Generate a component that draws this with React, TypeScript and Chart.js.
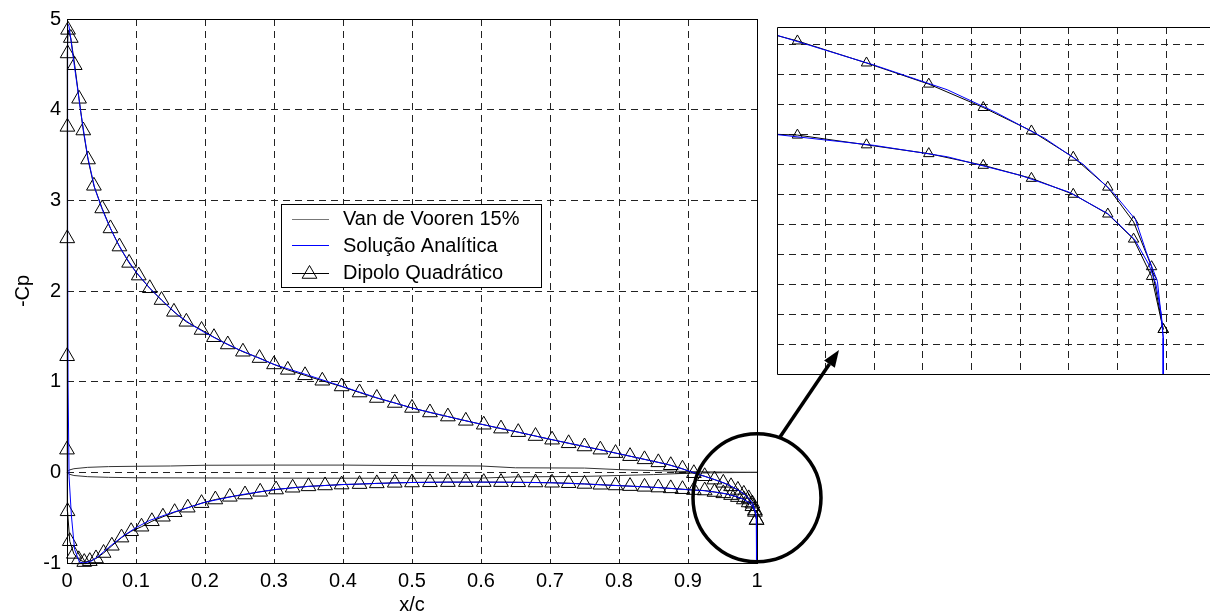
import React, { useEffect, useRef } from "react";
import { Chart, registerables } from "chart.js";

Chart.register(...registerables);

// ---------------- data ----------------
// Van de Vooren 15% airfoil contour (drawn on the same axes)
const vdvUpperX = [0, 0.003, 0.01, 0.03, 0.06, 0.1, 0.15, 0.2, 0.3, 0.4, 0.5, 0.6, 0.65, 0.75, 0.8, 0.85, 0.9, 0.95, 1.0];
const vdvUpperY = [0, 0.025, 0.04, 0.055, 0.063, 0.067, 0.07, 0.078, 0.08, 0.08, 0.074, 0.07, 0.05, 0.047, 0.03, 0.02, 0.008, 0.003, 0];
const vdvLowerX = [0, 0.003, 0.01, 0.03, 0.06, 0.1, 0.2, 0.3, 0.4, 0.5, 0.6, 0.65, 0.75, 0.8, 0.85, 0.9, 0.95, 1.0];
const vdvLowerY = [0, -0.02, -0.035, -0.048, -0.055, -0.06, -0.062, -0.064, -0.065, -0.065, -0.064, -0.05, -0.045, -0.035, -0.025, -0.01, -0.004, 0];

// Solução Analítica (-Cp): trailing edge -> lower surface -> leading edge -> upper surface -> trailing edge
const analyticX = [0.9994, 0.9994, 0.999, 0.9979, 0.9965, 0.9935, 0.988, 0.98, 0.97, 0.955, 0.94, 0.92, 0.9, 0.87, 0.84, 0.8, 0.75, 0.7, 0.65, 0.6, 0.55, 0.5, 0.45, 0.4, 0.35, 0.3, 0.25, 0.2, 0.15, 0.12, 0.1, 0.08, 0.06, 0.045, 0.035, 0.025, 0.018, 0.011, 0.0064, 0.003, 0.0015, 0.001, 0.0008, 0.001, 0.003, 0.006, 0.01, 0.015, 0.02, 0.025, 0.03, 0.04, 0.05, 0.06, 0.07, 0.08, 0.09, 0.1, 0.12, 0.14, 0.16, 0.18, 0.2, 0.225, 0.25, 0.275, 0.3, 0.35, 0.4, 0.45, 0.5, 0.55, 0.6, 0.65, 0.7, 0.75, 0.8, 0.84, 0.87, 0.9, 0.92, 0.94, 0.955, 0.965, 0.975, 0.983, 0.989, 0.9937, 0.9959, 0.9982, 0.999, 0.9994, 0.9994];
const analyticY = [-1.0, -0.54, -0.5, -0.45, -0.418, -0.375, -0.332, -0.296, -0.268, -0.237, -0.218, -0.2, -0.192, -0.175, -0.161, -0.147, -0.128, -0.115, -0.11, -0.108, -0.108, -0.112, -0.122, -0.135, -0.155, -0.19, -0.25, -0.33, -0.45, -0.53, -0.61, -0.71, -0.83, -0.93, -0.98, -1.0, -0.99, -0.85, -0.48, -0.05, 1.0, 2.5, 4.0, 4.95, 4.92, 4.75, 4.52, 4.25, 3.97, 3.72, 3.48, 3.14, 2.92, 2.74, 2.58, 2.44, 2.32, 2.21, 2.03, 1.88, 1.74, 1.63, 1.54, 1.44, 1.35, 1.27, 1.19, 1.07, 0.945, 0.82, 0.71, 0.618, 0.531, 0.45, 0.365, 0.285, 0.205, 0.138, 0.088, 0.018, -0.034, -0.084, -0.125, -0.163, -0.206, -0.25, -0.296, -0.342, -0.396, -0.445, -0.505, -0.54, -1.0];

// Dipolo Quadrático, lower surface (leading edge -> trailing edge)
const dipoloLowerX = [0.0008, 0.004, 0.01, 0.017, 0.025, 0.033, 0.042, 0.053, 0.065, 0.079, 0.093, 0.108, 0.123, 0.139, 0.156, 0.175, 0.195, 0.215, 0.236, 0.258, 0.28, 0.303, 0.327, 0.35, 0.374, 0.398, 0.424, 0.449, 0.475, 0.5, 0.526, 0.552, 0.578, 0.604, 0.629, 0.654, 0.679, 0.703, 0.727, 0.75, 0.773, 0.795, 0.816, 0.837, 0.857, 0.875, 0.892, 0.9085, 0.9242, 0.9384, 0.9512, 0.9624, 0.9723, 0.9809, 0.988, 0.9933, 0.997, 0.9994];
const dipoloLowerY = [-0.43, -0.76, -0.9, -0.96, -0.99, -0.98, -0.95, -0.89, -0.81, -0.72, -0.65, -0.6, -0.54, -0.49, -0.44, -0.39, -0.34, -0.3, -0.27, -0.245, -0.215, -0.19, -0.17, -0.155, -0.145, -0.135, -0.13, -0.122, -0.116, -0.112, -0.11, -0.108, -0.108, -0.108, -0.108, -0.11, -0.112, -0.115, -0.12, -0.128, -0.137, -0.145, -0.152, -0.16, -0.168, -0.177, -0.186, -0.196, -0.2008, -0.2171, -0.2318, -0.2513, -0.2731, -0.2997, -0.3327, -0.3746, -0.437, -0.5256];
// Dipolo Quadrático, upper surface (leading edge -> trailing edge)
const dipoloUpperX = [0.0, 0.0002, 0.0004, 0.0006, 0.0009, 0.0015, 0.0055, 0.0112, 0.0175, 0.0236, 0.0305, 0.039, 0.051, 0.063, 0.076, 0.09, 0.104, 0.12, 0.137, 0.155, 0.173, 0.195, 0.213, 0.233, 0.255, 0.279, 0.3, 0.32, 0.345, 0.37, 0.398, 0.424, 0.449, 0.475, 0.5, 0.526, 0.552, 0.578, 0.604, 0.629, 0.654, 0.679, 0.703, 0.727, 0.75, 0.773, 0.795, 0.816, 0.837, 0.857, 0.875, 0.892, 0.9085, 0.9242, 0.9384, 0.9512, 0.9624, 0.9723, 0.9809, 0.988, 0.9933, 0.997, 0.9994];
const dipoloUpperY = [0.25, 1.28, 2.58, 3.81, 4.62, 4.88, 4.79, 4.49, 4.12, 3.77, 3.45, 3.16, 2.91, 2.69, 2.49, 2.31, 2.17, 2.03, 1.9, 1.77, 1.66, 1.57, 1.49, 1.41, 1.33, 1.26, 1.19, 1.13, 1.07, 1.01, 0.947, 0.88, 0.82, 0.765, 0.71, 0.66, 0.615, 0.568, 0.525, 0.482, 0.443, 0.4, 0.36, 0.32, 0.285, 0.25, 0.212, 0.178, 0.143, 0.11, 0.078, 0.04, -0.01, -0.0435, -0.0803, -0.1156, -0.1547, -0.1939, -0.2378, -0.2878, -0.3458, -0.4207, -0.5256];

// ticks
const xTickValues = [0, 0.1, 0.2, 0.3, 0.4, 0.5, 0.6, 0.7, 0.8, 0.9, 1];
const xTickLabels = ["0", "0.1", "0.2", "0.3", "0.4", "0.5", "0.6", "0.7", "0.8", "0.9", "1"];
const yTickValues = [-1, 0, 1, 2, 3, 4, 5];
const yTickLabels = ["-1", "0", "1", "2", "3", "4", "5"];
const insetXTicks = [0.93, 0.94, 0.95, 0.96, 0.97, 0.98, 0.99, 1.0];
const insetYTicks = [-0.55, -0.5, -0.45, -0.4, -0.35, -0.3, -0.25, -0.2, -0.15, -0.1, -0.05];

const legendLabels = ["Van de Vooren 15%", "Solução Analítica", "Dipolo Quadrático"];

// ---------------- helpers ----------------
const zip = (xs: number[], ys: number[]) => xs.map((x, i) => ({ x, y: ys[i] }));
const dipoloPath = [
  ...zip(dipoloLowerX, dipoloLowerY).reverse(),
  ...zip(dipoloUpperX, dipoloUpperY),
];

const FONT_FAMILY = '"Liberation Sans", Arial, Helvetica, sans-serif';
const GRID_COLOR = "#222";
const VDV_COLOR = "#333";
const BLUE = "#0000ff";

function drawTriangle(ctx: CanvasRenderingContext2D, x: number, y: number, r: number) {
  ctx.beginPath();
  ctx.moveTo(x, y - r);
  ctx.lineTo(x + 0.866 * r, y + 0.5 * r);
  ctx.lineTo(x - 0.866 * r, y + 0.5 * r);
  ctx.closePath();
  ctx.stroke();
}

function makeDatasets(markerRadius: number, clip: boolean) {
  const line = { showLine: true, pointRadius: 0, borderWidth: 1, tension: 0, clip: clip ? undefined : false } as any;
  return [
    { ...line, label: "vdvU", data: zip(vdvUpperX, vdvUpperY), borderColor: VDV_COLOR, order: 3 },
    { ...line, label: "vdvL", data: zip(vdvLowerX, vdvLowerY), borderColor: VDV_COLOR, order: 3 },
    {
      ...line,
      label: legendLabels[2],
      data: dipoloPath,
      borderColor: "#000",
      pointStyle: "triangle",
      pointRadius: markerRadius,
      pointBorderColor: "#000",
      pointBackgroundColor: "rgba(0,0,0,0)",
      pointBorderWidth: 1,
      order: 2,
    },
    { ...line, label: legendLabels[1], data: zip(analyticX, analyticY), borderColor: BLUE, order: 1 },
  ];
}

const mainDecor = {
  id: "mainDecor",
  afterDraw(chart: any) {
    const { ctx, chartArea: a, scales } = chart;
    ctx.save();
    ctx.setLineDash([]);
    // axes box
    ctx.strokeStyle = "#000";
    ctx.lineWidth = 1;
    ctx.strokeRect(Math.round(a.left) + 0.5, Math.round(a.top) + 0.5, Math.round(a.right - a.left), Math.round(a.bottom - a.top));

    // legend
    const bx = 281.5, by = 204.5, bw = 260, bh = 83;
    ctx.fillStyle = "#fff";
    ctx.fillRect(bx, by, bw, bh);
    ctx.strokeRect(bx, by, bw, bh);
    const lx1 = 292, lx2 = 329;
    ctx.lineWidth = 1;
    ctx.strokeStyle = "#777";
    ctx.beginPath(); ctx.moveTo(lx1, 219.5); ctx.lineTo(lx2, 219.5); ctx.stroke();
    ctx.strokeStyle = BLUE;
    ctx.beginPath(); ctx.moveTo(lx1, 245.5); ctx.lineTo(lx2, 245.5); ctx.stroke();
    ctx.strokeStyle = "#000";
    ctx.beginPath(); ctx.moveTo(lx1, 273.5); ctx.lineTo(lx2, 273.5); ctx.stroke();
    drawTriangle(ctx, 309.5, 274, 8.5);
    ctx.fillStyle = "#000";
    ctx.font = `20px ${FONT_FAMILY}`;
    ctx.textBaseline = "alphabetic";
    ctx.textAlign = "left";
    ctx.fillText(legendLabels[0], 343, 224.5);
    ctx.fillText(legendLabels[1], 343, 251.8);
    ctx.fillText(legendLabels[2], 343, 279);

    // zoom circle around the trailing edge
    const cx = scales.x.getPixelForValue(1.0);
    const cy = scales.y.getPixelForValue(-0.28);
    ctx.lineWidth = 3.5;
    ctx.beginPath();
    ctx.arc(cx, cy, 64, 0, Math.PI * 2);
    ctx.stroke();

    // arrow to inset
    const sx = 780, sy = 437, tx = 839, ty = 350;
    const ang = Math.atan2(ty - sy, tx - sx);
    const headLen = 17, headHalf = 6.5;
    const bxh = tx - headLen * Math.cos(ang), byh = ty - headLen * Math.sin(ang);
    ctx.beginPath();
    ctx.moveTo(sx, sy);
    ctx.lineTo(bxh, byh);
    ctx.stroke();
    ctx.beginPath();
    ctx.moveTo(tx, ty);
    ctx.lineTo(bxh + headHalf * Math.sin(ang), byh - headHalf * Math.cos(ang));
    ctx.lineTo(bxh - headHalf * Math.sin(ang), byh + headHalf * Math.cos(ang));
    ctx.closePath();
    ctx.fill();
    ctx.restore();
  },
};

const insetFrame = {
  id: "insetFrame",
  beforeDraw(chart: any) {
    const { ctx, width, height } = chart;
    ctx.save();
    ctx.fillStyle = "#fff";
    ctx.fillRect(0, 0, width, height);
    ctx.restore();
  },
  afterDraw(chart: any) {
    const { ctx, chartArea: a } = chart;
    ctx.save();
    ctx.setLineDash([]);
    ctx.strokeStyle = "#000";
    ctx.lineWidth = 1;
    const l = Math.round(a.left) + 0.5, t = Math.round(a.top) + 0.5, b = Math.round(a.bottom) + 0.5;
    ctx.beginPath();
    ctx.moveTo(a.right + 2, t);
    ctx.lineTo(l, t);
    ctx.lineTo(l, b);
    ctx.lineTo(a.right + 2, b);
    ctx.stroke();
    ctx.restore();
  },
};

export default function App() {
  const mainRef = useRef<HTMLCanvasElement>(null);
  const insetRef = useRef<HTMLCanvasElement>(null);

  useEffect(() => {
    const tickFont = { family: FONT_FAMILY, size: 20 };

    const inset = new Chart(insetRef.current as HTMLCanvasElement, {
      type: "scatter",
      data: { datasets: makeDatasets(6, true) as any },
      options: {
        responsive: false,
        animation: false,
        devicePixelRatio: 1,
        events: [],
        layout: { padding: { left: 2, top: 2, right: 0, bottom: 3 } },
        plugins: { legend: { display: false }, tooltip: { enabled: false } },
        scales: {
          x: {
            type: "linear",
            min: 0.92,
            max: 0.92 + 443 / 5000,
            afterBuildTicks: (s: any) => { s.ticks = insetXTicks.map((v) => ({ value: v })); },
            afterFit: (s: any) => { s.height = 0; },
            ticks: { display: false },
            grid: { color: GRID_COLOR, lineWidth: 1, drawTicks: false },
            border: { display: false, dash: [7, 5] },
          },
          y: {
            type: "linear",
            min: -0.6,
            max: -0.6 + 356 / 614,
            afterBuildTicks: (s: any) => { s.ticks = insetYTicks.map((v) => ({ value: v })); },
            afterFit: (s: any) => { s.width = 0; },
            ticks: { display: false },
            grid: { color: GRID_COLOR, lineWidth: 1, drawTicks: false },
            border: { display: false, dash: [7, 5] },
          },
        },
      } as any,
      plugins: [insetFrame],
    });

    const main = new Chart(mainRef.current as HTMLCanvasElement, {
      type: "scatter",
      data: { datasets: makeDatasets(8.5, false) as any },
      options: {
        responsive: false,
        animation: false,
        devicePixelRatio: 1,
        events: [],
        layout: { padding: { left: 0, top: 19, right: 458, bottom: 0 } },
        plugins: { legend: { display: false }, tooltip: { enabled: false } },
        scales: {
          x: {
            type: "linear",
            min: 0,
            max: 1,
            afterBuildTicks: (s: any) => { s.ticks = xTickValues.map((v) => ({ value: v })); },
            afterFit: (s: any) => { s.height = 52; },
            ticks: {
              callback: (_v: any, i: number) => xTickLabels[i],
              font: tickFont,
              color: "#000",
              padding: 6,
              maxRotation: 0,
              autoSkip: false,
            },
            grid: { color: GRID_COLOR, lineWidth: 1, drawTicks: false },
            border: { display: false, dash: [7, 5] },
            title: {
              display: true,
              text: "x/c",
              color: "#000",
              font: { family: FONT_FAMILY, size: 20, lineHeight: 1.0 },
              padding: 0,
            },
          },
          y: {
            type: "linear",
            min: -1,
            max: 5,
            afterBuildTicks: (s: any) => { s.ticks = yTickValues.map((v) => ({ value: v })); },
            afterFit: (s: any) => { s.width = 67; },
            ticks: {
              callback: (_v: any, i: number) => yTickLabels[i],
              font: tickFont,
              color: "#000",
              padding: 6,
              autoSkip: false,
            },
            grid: { color: GRID_COLOR, lineWidth: 1, drawTicks: false },
            border: { display: false, dash: [7, 5] },
            title: {
              display: true,
              text: "-Cp",
              color: "#000",
              font: { family: FONT_FAMILY, size: 20, lineHeight: 1.2 },
              padding: { top: 11, bottom: 0 },
            },
          },
        },
      } as any,
      plugins: [mainDecor],
    });

    return () => {
      main.destroy();
      inset.destroy();
    };
  }, []);

  return (
    <div style={{ position: "fixed", left: 0, top: 0, width: 1215, height: 615, background: "#fff", overflow: "hidden" }}>
      <canvas
        ref={insetRef}
        width={445}
        height={361}
        style={{ position: "absolute", left: 770, top: 20, width: 445, height: 361 }}
      />
      <canvas
        ref={mainRef}
        width={1215}
        height={615}
        style={{ position: "absolute", left: 0, top: 0, width: 1215, height: 615 }}
      />
    </div>
  );
}
